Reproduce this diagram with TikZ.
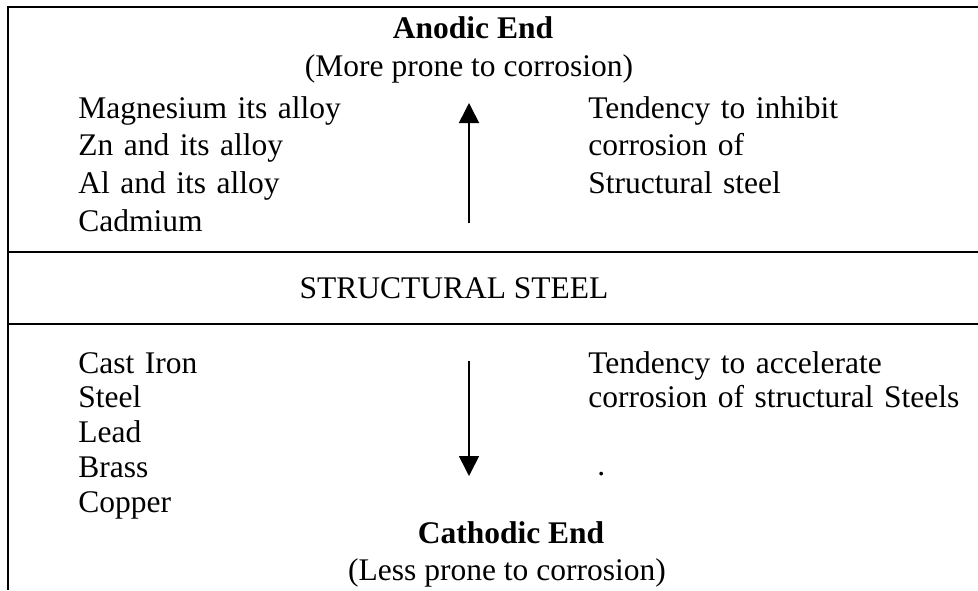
\documentclass[tikz,border=0pt]{standalone}
\usepackage{fontspec}
\setmainfont{Liberation Serif}
\usetikzlibrary{positioning,arrows.meta}

\begin{document}
\begin{tikzpicture}
      [ x=0.5pt, y=-0.5pt,
        every node/.style={font=\fontsize{15.75}{18}\selectfont, inner sep=0pt,
                           text height=12pt, text depth=4pt},
        metal/.style={anchor=west, text width=140pt, align=left},
        note/.style={anchor=west, text width=190pt, align=left},
        heading/.style={font=\fontsize{15.75}{18}\selectfont\bfseries},
        rule/.style={line width=1pt},
        flow/.style={line width=0.8pt, -{Triangle[length=10pt,width=10pt]}}
      ]
      \useasboundingbox (0,0) rectangle (978,590);

      % frame and bands
      \draw[rule] (978,7) -- (8,7) -- (8,590);
      \draw[rule] (8,252) -- (978,252);
      \draw[rule] (8,324) -- (978,324);

      % anodic part
      \node[heading]       (anodic)                      at (473,30)  {Anodic End};
      \node                (moreprone)                   at (469,68)  {(More prone to corrosion)};
      \node[metal]         (mg)                          at (78,110)  {Magnesium its alloy};
      \node[metal]         (zn)  [below=2.5pt of mg]                  {Zn and its alloy};
      \node[metal]         (al)  [below=2.5pt of zn]                  {Al and its alloy};
      \node[metal]         (cd)  [below=2.5pt of al]                  {Cadmium};
      \node[note]          (inhibit)                     at (588,110) {Tendency to inhibit};
      \node[note]          (inhibitb) [below=2.5pt of inhibit]        {corrosion of};
      \node[note]          (inhibitc) [below=2.5pt of inhibitb]       {Structural steel};

      % middle band
      \node                (steel)                       at (454,290) {STRUCTURAL STEEL};

      % cathodic part
      \node[metal]         (ci)                          at (78,365)  {Cast Iron};
      \node[metal]         (st)  [below=1pt of ci]                    {Steel};
      \node[metal]         (pb)  [below=1pt of st]                    {Lead};
      \node[metal]         (br)  [below=1pt of pb]                    {Brass};
      \node[metal]         (cu)  [below=1pt of br]                    {Copper};
      \node[note]          (accel)                       at (588,365) {Tendency to accelerate};
      \node[note]          (accelb) [below=1pt of accel]              {corrosion of structural Steels};
      \node[anchor=west]   (dot)                         at (597,467) {.};
      \node[heading]       (cathodic)                    at (511,535) {Cathodic End};
      \node                (lessprone)                   at (507,572) {(Less prone to corrosion)};

      % arrows
      \coordinate (upfoot)   at (469,223);
      \coordinate (uptip)    at (469,103);
      \coordinate (downfoot) at (469,361);
      \coordinate (downtip)  at (469,476);
      \draw[flow] (upfoot)   -- (uptip);
      \draw[flow] (downfoot) -- (downtip);
\end{tikzpicture}
\end{document}
